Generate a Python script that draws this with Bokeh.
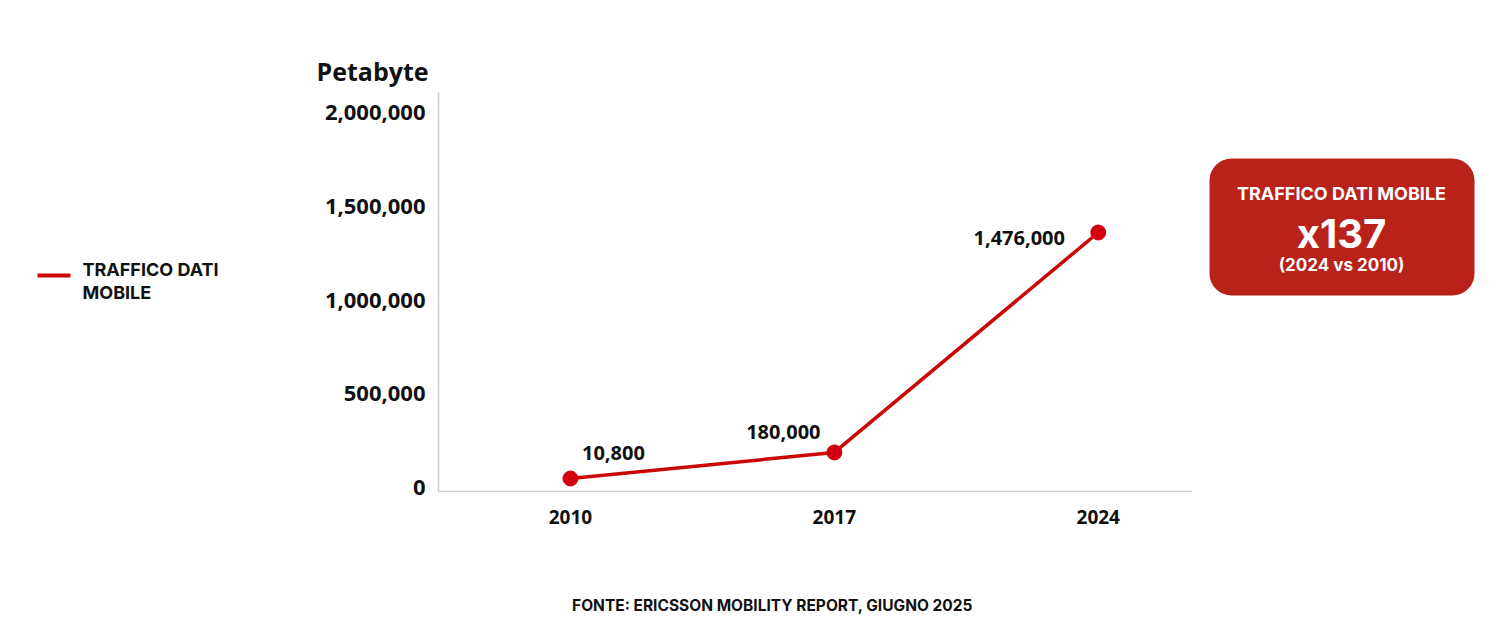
from bokeh.plotting import figure
from bokeh.layouts import row, column
from bokeh.models import Label, BoxAnnotation, NumeralTickFormatter, FixedTicker, Range1d, ColumnDataSource, LabelSet
from bokeh.core.properties import value
from bokeh.embed import file_html
from bokeh.resources import INLINE

# ---- data ----
years = [2010, 2017, 2024]
plotted = [48000, 187000, 1360000]          # positions as drawn in the picture
value_labels = ["10,800", "180,000", "1,476,000"]
y_ticks = [0, 500000, 1000000, 1500000, 2000000]
legend_lines = ["TRAFFICO DATI", "MOBILE"]
box_lines = ["TRAFFICO DATI MOBILE", "x137", "(2024 vs 2010)"]
source_text = "FONTE: ERICSSON MOBILITY REPORT, GIUGNO 2025"
unit_title = "Petabyte"

# ---- style ----
RED = "#CC0505"
DOT = "#D3000F"
BOX = "#B8221B"
INK = "#111111"
W, H = 1500, 619
TOP_H = 587                       # height of chart row, footer below
FL, FR, FT, FB = 438, 1192, 92, 491   # frame edges in page pixels
LEFT_W = 300
label_dx = [43, -51, -79]
label_dy = [26, 20, -5]


def side(x0, x1):
    f = figure(width=x1 - x0, height=TOP_H, output_backend="svg", toolbar_location=None,
               x_range=Range1d(x0, x1), y_range=Range1d(FB, FT),
               x_axis_type=None, y_axis_type=None, min_border_left=0, min_border_right=0,
               min_border_top=FT, min_border_bottom=TOP_H - FB)
    f.grid.visible = False
    f.outline_line_color = None
    f.background_fill_color = "white"
    f.border_fill_color = "white"
    return f


def lab(f, x, y, text, size, font="Inter", color=INK, align="left"):
    f.add_layout(Label(x=x, y=y, text=text,
                       text_font=font, text_font_style="bold", text_font_size=size,
                       text_color=color, text_align=align, text_baseline="middle"))


# ---- main chart ----
p = figure(width=FR - LEFT_W, height=TOP_H, output_backend="svg", toolbar_location=None,
           x_range=Range1d(2006.5, 2026.5), y_range=Range1d(-21333, 2106667),
           min_border_left=FL - LEFT_W, min_border_right=0, min_border_top=FT, min_border_bottom=TOP_H - FB)
p.background_fill_color = "white"
p.border_fill_color = "white"
p.outline_line_color = None
p.grid.visible = False

p.title.text = unit_title
p.title.text_font = "Open Sans"
p.title.text_font_style = "bold"
p.title.text_font_size = "25px"
p.title.text_color = INK
p.title.align = "left"
p.title.offset = 316 - FL
p.title.standoff = 9

p.yaxis.ticker = FixedTicker(ticks=y_ticks)
p.yaxis.formatter = NumeralTickFormatter(format="0,0")
p.xaxis.ticker = FixedTicker(ticks=years)
for ax in (p.xaxis, p.yaxis):
    ax.major_tick_line_color = None
    ax.minor_tick_line_color = None
    ax.major_tick_out = 0
    ax.major_tick_in = 0
    ax.axis_line_color = "#CCCCCC"
    ax.axis_line_width = 1.5
    ax.major_label_text_font = "Open Sans"
    ax.major_label_text_font_style = "bold"
    ax.major_label_text_color = INK
p.yaxis.major_label_text_font_size = "22px"
p.xaxis.major_label_text_font_size = "19px"
p.yaxis.major_label_standoff = 13
p.xaxis.major_label_standoff = 18

src = ColumnDataSource(dict(x=years, y=plotted, lab=value_labels, dx=label_dx, dy=label_dy))
p.line("x", "y", source=src, line_color=RED, line_width=3.5)
p.scatter("x", "y", source=src, size=15, fill_color=DOT, line_color=DOT)
p.add_layout(LabelSet(x="x", y="y", text="lab", source=src,
                      x_offset="dx", y_offset="dy", text_align="center", text_baseline="middle",
                      text_font=value("Open Sans"), text_font_style="bold",
                      text_font_size="20px", text_color=INK))

# ---- legend (left) ----
L = side(0, LEFT_W)
L.add_layout(BoxAnnotation(left=37, right=70, top=273, bottom=277,
                           fill_color=RED, fill_alpha=1, line_color=None))
lab(L, 82, 269, legend_lines[0], "18px")
lab(L, 82, 292, legend_lines[1], "18px")

# ---- highlight box (right) ----
R = side(FR, W)
R.add_layout(BoxAnnotation(left=1209, right=1474, top=158, bottom=295,
                           fill_color=BOX, fill_alpha=1, line_color=None, border_radius=22))
lab(R, 1341, 193, box_lines[0], "18px", color="white", align="center")
lab(R, 1341, 233, box_lines[1], "40px", color="white", align="center")
lab(R, 1341, 264, box_lines[2], "17px", color="white", align="center")

# ---- footer ----
F = figure(width=W, height=H - TOP_H, output_backend="svg", toolbar_location=None,
           x_range=Range1d(0, W), y_range=Range1d(H, TOP_H),
           x_axis_type=None, y_axis_type=None, min_border=0)
F.grid.visible = False
F.outline_line_color = None
lab(F, 772, 605, source_text, "15.5px", align="center")

layout = column(row(L, p, R, spacing=0), F, spacing=0)
open("out.html", "w").write(file_html(layout, INLINE))
